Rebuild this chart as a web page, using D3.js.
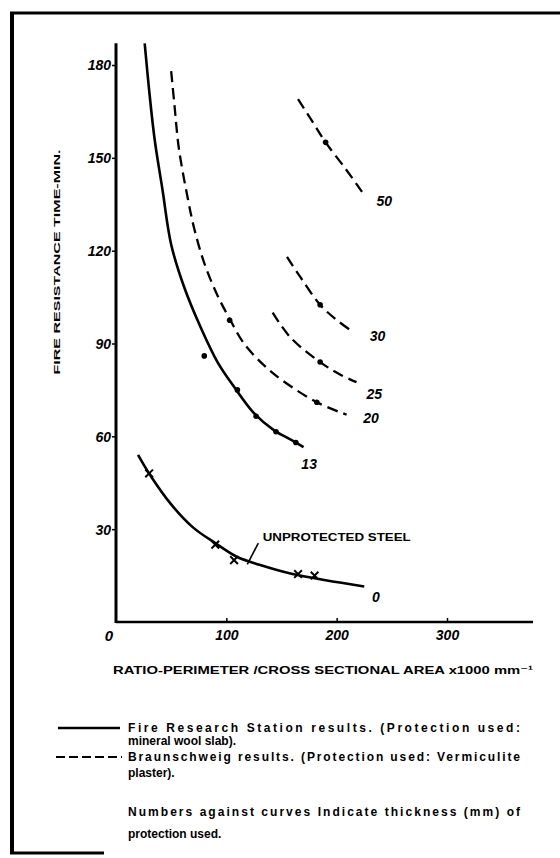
<!DOCTYPE html>
<html>
<head>
<meta charset="utf-8">
<script src="https://cdn.jsdelivr.net/npm/d3@7"></script>
<style>
  html, body { margin: 0; padding: 0; background: #fff; }
  svg { display: block; }
  text { font-family: "Liberation Sans", "DejaVu Sans", sans-serif; font-weight: bold; fill: #000; }
</style>
</head>
<body>
<script>
// ---------- data ----------
const xTicks = [100, 200, 300];
const yTicks = [30, 60, 90, 120, 150, 180];

// Fire Research Station, 13 mm mineral wool slab (solid)
const fireResearch13 = [[26,187],[30,172],[35,156],[42,140],[50,122],[62,108],[77,95],[92,84],[107,76],[125,67.5],[143,62],[158,59],[170,56.5]];
const fireResearch13Marks = [[80,86],[110,75],[127,66.5],[145,61.5],[163,58]];

// Unprotected steel (solid)
const unprotected0 = [[20,54],[30,48],[50,38],[70,30.5],[90,25.5],[110,21],[130,18.5],[160,15.5],[190,13.5],[225,11.5]];
const unprotectedMarks = [[30,48],[90,25],[107,20],[165,15.5],[180,15]];

// Braunschweig, vermiculite plaster (dashed)
const braun20 = [[50,178],[53,167],[57,153],[65,137],[71,127],[80,116],[92,105.5],[103,98],[116,90],[134,83],[151,78],[182,71],[209,67]];
const braun25 = [[142,100],[158,92],[185,84],[203,80],[218,77.5]];
const braun30 = [[155,118],[167,111.5],[185,102.5],[200,97.6],[215,93.7]];
const braun50 = [[165,169],[177.5,162],[190,155],[209,146],[223,139]];
const braunMarks = [[103,97.5],[182,71],[185,84],[185,102.5],[190,155]];

// curve labels (thickness in mm) and their anchor in data units
const curveLabels = ["13", "0", "20", "25", "30", "50"];
const curveLabelAnchors = [[168,51],[232,8],[224,66],[227,73.5],[230,92.5],[236,136]];

const xTitle = "RATIO-PERIMETER /CROSS SECTIONAL AREA x1000 mm\u207B\u00B9";
const yTitle = "FIRE RESISTANCE TIME-MIN.";
const legendLines = [
  "Fire Research Station results. (Protection used:",
  "mineral wool slab).",
  "Braunschweig results. (Protection used: Vermiculite",
  "plaster).",
  "Numbers against curves Indicate thickness (mm) of",
  "protection used."
];

// ---------- drawing ----------
const W = 560, H = 858;
const svg = d3.select("body").append("svg").attr("width", W).attr("height", H);

// frame (scanned page border)
svg.append("line").attr("x1", 10).attr("x2", 560).attr("y1", 13).attr("y2", 13)
  .attr("stroke", "#000").attr("stroke-width", 3);
svg.append("line").attr("x1", 12).attr("x2", 12).attr("y1", 12).attr("y2", 854)
  .attr("stroke", "#000").attr("stroke-width", 4);
svg.append("line").attr("x1", 10).attr("x2", 104).attr("y1", 853).attr("y2", 853)
  .attr("stroke", "#000").attr("stroke-width", 3);

const x = d3.scaleLinear().domain([0, 300]).range([116, 447]);
const y = d3.scaleLinear().domain([0, 180]).range([622, 65]);

// axes
const xAxis = d3.axisBottom(x).tickValues(xTicks).tickSize(-4).tickFormat("");
const gx = svg.append("g").attr("transform", `translate(0,${y(0)})`).call(xAxis);
gx.select(".domain").remove();
gx.selectAll(".tick line").attr("stroke-width", 1.5);
svg.append("line").attr("x1", x(0)).attr("x2", x(378)).attr("y1", y(0)).attr("y2", y(0))
  .attr("stroke", "#000").attr("stroke-width", 2.5);
gx.selectAll(".tick").append("text").attr("y", 18).attr("text-anchor", "middle")
  .style("font-size", "14px").style("font-style", "italic").text(d => d);

const yAxis = d3.axisLeft(y).tickValues(yTicks).tickSize(4).tickFormat("");
const gy = svg.append("g").attr("transform", `translate(${x(0)},0)`).call(yAxis);
gy.select(".domain").remove();
gy.selectAll(".tick line").attr("stroke-width", 1.5);
svg.append("line").attr("x1", x(0)).attr("x2", x(0)).attr("y1", y(0) + 1).attr("y2", y(187))
  .attr("stroke", "#000").attr("stroke-width", 3);
gy.selectAll(".tick").append("text").attr("x", -5).attr("dy", "0.35em").attr("text-anchor", "end")
  .style("font-size", "14px").style("font-style", "italic").text(d => d);
svg.append("text").attr("x", x(0) - 3).attr("y", y(0) + 19).attr("text-anchor", "end")
  .style("font-size", "15px").style("font-style", "italic").text("0");

// axis titles
svg.append("text").attr("x", 113).attr("y", 674)
  .attr("textLength", 420).attr("lengthAdjust", "spacingAndGlyphs")
  .style("font-size", "11px").text(xTitle);
svg.append("text").attr("transform", "translate(60,262) rotate(-90)")
  .attr("text-anchor", "middle")
  .attr("textLength", 225).attr("lengthAdjust", "spacingAndGlyphs")
  .style("font-size", "9.5px").text(yTitle);

// curves
const line = d3.line().x(d => x(d[0])).y(d => y(d[1])).curve(d3.curveCatmullRom.alpha(0.5));
const solid = [fireResearch13, unprotected0];
const dashed = [braun20, braun25, braun30, braun50];

svg.append("g").selectAll("path").data(solid).join("path")
  .attr("d", line).attr("fill", "none").attr("stroke", "#000").attr("stroke-width", 2.6);
svg.append("g").selectAll("path").data(dashed).join("path")
  .attr("d", line).attr("fill", "none").attr("stroke", "#000").attr("stroke-width", 2.3)
  .attr("stroke-dasharray", "11,6");

// markers
svg.append("g").selectAll("circle").data(braunMarks.concat(fireResearch13Marks)).join("circle")
  .attr("cx", d => x(d[0])).attr("cy", d => y(d[1])).attr("r", 2.8).attr("fill", "#000");
const cross = d3.symbol().type(d3.symbolX).size(40);
svg.append("g").selectAll("path").data(unprotectedMarks).join("path")
  .attr("transform", d => `translate(${x(d[0])},${y(d[1])})`)
  .attr("d", cross).attr("stroke", "#000").attr("stroke-width", 2).attr("fill", "none");

// curve labels
svg.append("g").selectAll("text").data(curveLabels).join("text")
  .attr("x", (d, i) => x(curveLabelAnchors[i][0]))
  .attr("y", (d, i) => y(curveLabelAnchors[i][1]))
  .attr("dy", "0.35em")
  .style("font-size", "14px").style("font-style", "italic").text(d => d);

// unprotected steel annotation
svg.append("text").attr("x", x(133)).attr("y", y(27.5)).attr("dy", "0.35em")
  .attr("textLength", 148).attr("lengthAdjust", "spacingAndGlyphs")
  .style("font-size", "11px").text("UNPROTECTED STEEL");
svg.append("line").attr("x1", x(129)).attr("y1", y(25.5)).attr("x2", x(119)).attr("y2", y(18.6))
  .attr("stroke", "#000").attr("stroke-width", 1.6);

// legend
const legendX = 128;
const legendY = [732, 745, 761, 777, 816, 838];
const legendFull = [true, false, true, false, true, false];
const lg = svg.append("g");
lg.selectAll("text").data(legendLines).join("text")
  .attr("x", legendX).attr("y", (d, i) => legendY[i])
  .attr("textLength", (d, i) => legendFull[i] ? 392 : null)
  .attr("lengthAdjust", "spacing")
  .style("font-size", "12px").text(d => d);
lg.append("line").attr("x1", 58).attr("x2", 120).attr("y1", 728).attr("y2", 728)
  .attr("stroke", "#000").attr("stroke-width", 2.4);
lg.append("line").attr("x1", 56).attr("x2", 122).attr("y1", 757).attr("y2", 757)
  .attr("stroke", "#000").attr("stroke-width", 2.2).attr("stroke-dasharray", "9,4");
</script>
</body>
</html>
